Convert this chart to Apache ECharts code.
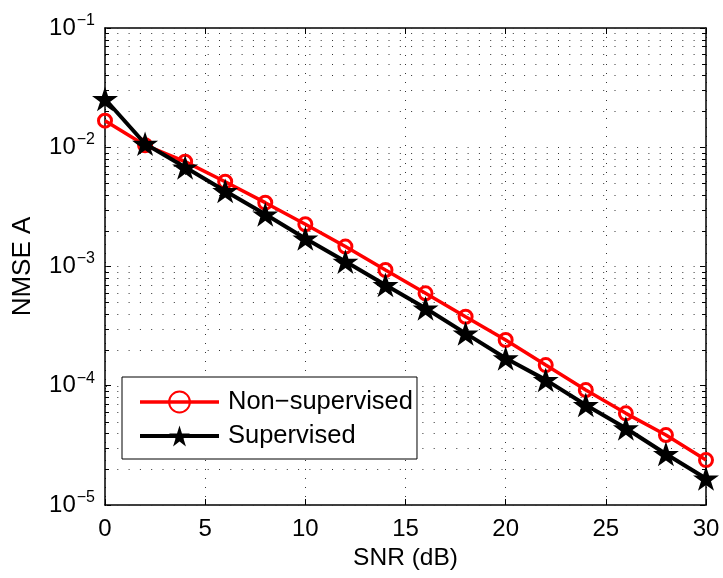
<!DOCTYPE html>
<html>
<head>
<meta charset="utf-8">
<script src="https://cdn.jsdelivr.net/npm/echarts@6/dist/echarts.min.js"></script>
<style>
  html, body { margin: 0; padding: 0; background: #fff; }
  #chart { width: 723px; height: 578px; }
</style>
</head>
<body>
<div id="chart"></div>
<script>
// SNR sweep (dB)
const snr = [0, 2, 4, 6, 8, 10, 12, 14, 16, 18, 20, 22, 24, 26, 28, 30];
// NMSE of A for each estimator
const nonSupervised = [0.0167, 0.0104, 0.00757, 0.00514, 0.00343, 0.00226, 0.00147, 0.000935,
  0.000596, 0.000379, 0.000242, 0.000149, 0.000092, 0.0000587, 0.0000386, 0.0000238];
const supervised = [0.0254, 0.0107, 0.00679, 0.0043, 0.00274, 0.00172, 0.0011, 0.0007,
  0.000446, 0.000275, 0.00017, 0.000112, 0.000069, 0.000044, 0.0000268, 0.0000167];
const seriesNames = ['Non\u2212supervised', 'Supervised'];
// log axis range (decades)
const yMin = 1e-5, yMax = 1e-1;
const xTickStep = 5;

// grid levels at 1..9 x 10^k inside the log range
const gridLevels = [];
for (let k = -5; k <= -1; k++) {
  for (let m = 1; m <= 9; m++) {
    const v = m * Math.pow(10, k);
    if (v >= yMin * 0.999 && v <= yMax * 1.001) gridLevels.push(v);
  }
}

const FONT = '"Liberation Sans", Arial, Helvetica, sans-serif';
const STAR = 'path://M50 0L61.23 34.55L97.55 34.55L68.17 55.9L79.39 90.45L50 69.1L20.61 90.45L31.83 55.9L2.45 34.55L38.77 34.55Z';

const chart = echarts.init(document.getElementById('chart'), null, { renderer: 'canvas' });

const logLabel = {
  margin: 10,
  formatter: function (v) {
    const e = Math.round(Math.log10(v));
    return '{b|10}{e|' + (e < 0 ? '\u2212' : '') + Math.abs(e) + '}';
  },
  rich: {
    b: { fontFamily: FONT, fontSize: 24, lineHeight: 24, color: '#000', verticalAlign: 'middle' },
    e: { fontFamily: FONT, fontSize: 16, lineHeight: 16, color: '#000', verticalAlign: 'middle', padding: [0, 0, 15, 1] }
  }
};

chart.setOption({
  backgroundColor: '#fff',
  animation: false,
  grid: { left: 105, top: 28, right: 17, bottom: 73, containLabel: false, outerBoundsMode: 'none' },
  xAxis: [{
    type: 'value', min: 0, max: 30, interval: xTickStep, position: 'bottom',
    name: 'SNR (dB)', nameLocation: 'middle', nameGap: 38,
    nameTextStyle: { fontFamily: FONT, fontSize: 24.5, color: '#000' },
    axisLine: { onZero: false, lineStyle: { color: '#000', width: 1.5 } },
    axisTick: { inside: true, length: 6, lineStyle: { color: '#000', width: 1 } },
    axisLabel: { fontFamily: FONT, fontSize: 24, color: '#000', margin: 12 },
    splitLine: { show: true, lineStyle: { color: '#333', width: 1, type: [1, 8] } }
  }, {
    type: 'value', min: 0, max: 30, interval: xTickStep, position: 'top',
    axisLine: { onZero: false, lineStyle: { color: '#000', width: 1.5 } },
    axisTick: { inside: true, length: 6, lineStyle: { color: '#000', width: 1 } },
    axisLabel: { show: false }, splitLine: { show: false }
  }],
  yAxis: [{
    type: 'log', logBase: 10, min: yMin, max: yMax, position: 'left',
    name: 'NMSE A', nameLocation: 'middle', nameGap: 69, nameRotate: 90,
    nameTextStyle: { fontFamily: FONT, fontSize: 26, color: '#000' },
    axisLine: { onZero: false, lineStyle: { color: '#000', width: 1.5 } },
    axisTick: { inside: true, length: 6, lineStyle: { color: '#000', width: 1 } },
    axisLabel: logLabel,
    splitLine: { show: false }
  }, {
    type: 'log', logBase: 10, min: yMin, max: yMax, position: 'right',
    axisLine: { onZero: false, lineStyle: { color: '#000', width: 1.5 } },
    axisTick: { inside: true, length: 6, lineStyle: { color: '#000', width: 1 } },
    axisLabel: { show: false }, splitLine: { show: false }
  }],
  legend: {
    orient: 'vertical', left: 122, top: 377,
    padding: [12, 4, 10, 16], itemGap: 8, itemWidth: 79, itemHeight: 26,
    backgroundColor: '#fff', borderColor: '#000', borderWidth: 1,
    textStyle: { fontFamily: FONT, fontSize: 25.5, color: '#000', padding: [0, 0, 0, 4] },
    data: [
      { name: seriesNames[0], lineStyle: { width: 3.5 } },
      { name: seriesNames[1], lineStyle: { width: 4 } }
    ]
  },
  series: [{
    // dotted horizontal grid at every log level plus minor ticks on both sides
    type: 'custom', silent: true, z: 1,
    data: gridLevels.map(v => [0, v]),
    renderItem: function (params, api) {
      const v = api.value(1);
      const y = Math.round(api.coord([0, v])[1]) + 0.5;
      const cs = params.coordSys;
      const isMajor = Math.abs(Math.log10(v) - Math.round(Math.log10(v))) < 1e-6;
      const children = [{
        type: 'line',
        shape: { x1: cs.x + 1, y1: y, x2: cs.x + cs.width, y2: y },
        style: { stroke: '#333', lineWidth: 1, lineDash: [1, 10.3] }
      }];
      if (!isMajor) {
        children.push({ type: 'line', shape: { x1: cs.x, y1: y, x2: cs.x + 4, y2: y }, style: { stroke: '#000', lineWidth: 1 } });
        children.push({ type: 'line', shape: { x1: cs.x + cs.width - 4, y1: y, x2: cs.x + cs.width, y2: y }, style: { stroke: '#000', lineWidth: 1 } });
      }
      return { type: 'group', children: children };
    }
  }, {
    name: seriesNames[0], type: 'line', z: 3,
    data: snr.map((x, i) => [x, nonSupervised[i]]),
    symbol: 'circle', symbolSize: 13,
    lineStyle: { color: '#ff0000', width: 3.5 },
    itemStyle: { color: 'rgba(255,255,255,0)', borderColor: '#ff0000', borderWidth: 3 }
  }, {
    name: seriesNames[1], type: 'line', z: 4,
    data: snr.map((x, i) => [x, supervised[i]]),
    symbol: STAR, symbolSize: 26, symbolKeepAspect: true,
    lineStyle: { color: '#000', width: 4 },
    itemStyle: { color: '#000' }
  }]
});
</script>
</body>
</html>
